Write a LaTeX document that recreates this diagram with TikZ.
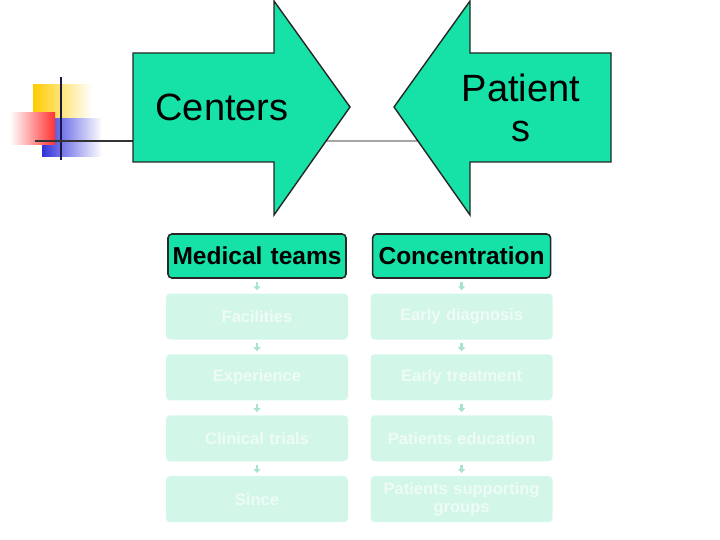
\documentclass[tikz,border=0pt]{standalone}
\usepackage{fontspec}
\setmainfont{Liberation Sans}
\usetikzlibrary{positioning,arrows.meta}
\definecolor{mint}{RGB}{22,226,168}
\definecolor{pale}{RGB}{210,247,232}
\definecolor{paletext}{RGB}{238,251,246}
\definecolor{tick}{RGB}{168,228,204}
\definecolor{navy}{RGB}{25,25,70}
\definecolor{dyel}{RGB}{255,204,0}
\definecolor{dblu}{RGB}{50,50,220}
\definecolor{dred}{RGB}{255,50,50}
\tikzset{
  hd/.style={draw=black!85, line width=1.6pt, fill=mint, rounded corners=4pt, font=\fontsize{24.5}{27}\selectfont\bfseries, text width=174pt, align=center, minimum height=44pt, inner sep=2pt},
  sub/.style={fill=pale, rounded corners=4pt, text=paletext, font=\fontsize{16.5}{18}\selectfont\bfseries, text width=178pt, align=center, minimum height=46pt, inner sep=2pt},
  bigarr/.style={draw=black!85, line width=1.4pt, fill=mint, line join=miter},
  big/.style={font=\fontsize{38}{40}\selectfont, align=center},
  dn/.style={-{Triangle[length=4pt,width=7pt]}, tick, line width=2.5pt, shorten <=3pt, shorten >=3pt},
}

\begin{document}
\begin{tikzpicture}[x=1pt, y=-1pt, node distance=14.5pt and 25pt]
\useasboundingbox (0,0) rectangle (720,540);
% corner decoration
\shade[left color=dyel, middle color=dyel, right color=white] (33,85) rectangle (92,118);
\shade[left color=dblu, middle color=dblu, right color=white] (42,119) rectangle (102,157);
\shade[left color=white, right color=dred] (10,113) rectangle (55,145);
\draw[navy, line width=2pt] (61,77) -- (61,160);
\draw[black!80, line width=1.6pt] (35,141) -- (133,141);
\draw[gray!70, line width=1.6pt] (133,141) -- (420,141);
% big arrows
\draw[bigarr] (133,53) -- (274,53) -- (274,1) -- (350,107) -- (274,215) -- (274,162) -- (133,162) -- cycle;
\draw[bigarr] (611,53) -- (470,53) -- (470,1) -- (394,107) -- (470,215) -- (470,162) -- (611,162) -- cycle;
\node[big] (ctr) at (222,107) {Centers};
\node[big] (pat) at (521,108) {Patient\\s};
% left column
\node[hd] (mt) at (257,256) {Medical teams};
\node[sub, below=of mt] (fac) {Facilities};
\node[sub, below=of fac] (exp) {Experience};
\node[sub, below=of exp] (ct) {Clinical trials};
\node[sub, below=of ct] (sin) {Since};
% right column
\node[hd, right=of mt] (con) {Concentration};
\node[sub, below=of con] (ed) {Early diagnosis};
\node[sub, below=of ed] (et) {Early treatment};
\node[sub, below=of et] (pe) {Patients education};
\node[sub, below=of pe] (psg) {Patients supporting\\groups};
\draw[dn] (mt) -- (fac);  \draw[dn] (fac) -- (exp);  \draw[dn] (exp) -- (ct);  \draw[dn] (ct) -- (sin);
\draw[dn] (con) -- (ed);  \draw[dn] (ed) -- (et);    \draw[dn] (et) -- (pe);    \draw[dn] (pe) -- (psg);
\end{tikzpicture}
\end{document}
